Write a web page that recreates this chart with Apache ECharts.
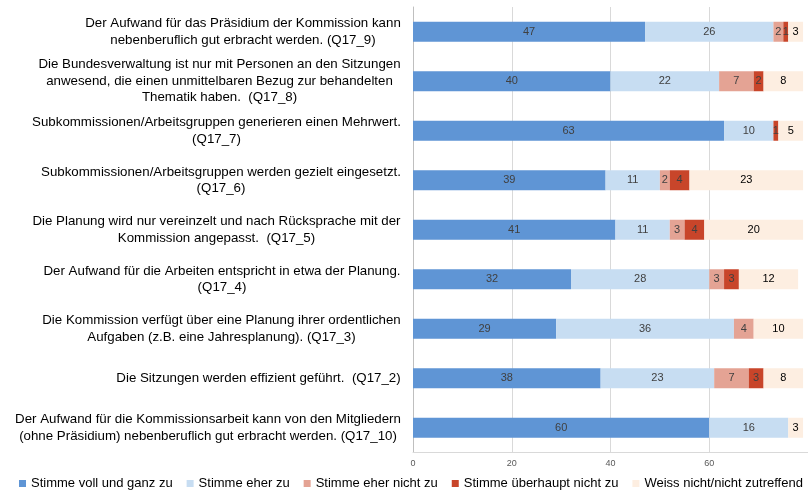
<!DOCTYPE html>
<html>
<head>
<meta charset="utf-8">
<script src="https://cdn.jsdelivr.net/npm/echarts@6/dist/echarts.min.js"></script>
<style>html,body{margin:0;padding:0;background:#fff}#c{width:808px;height:492px}</style>
</head>
<body>
<div id="c"></div>
<script>
const categories = [
  "Der Aufwand für das Präsidium der Kommission kann\nnebenberuflich gut erbracht werden. (Q17_9)",
  "Die Bundesverwaltung ist nur mit Personen an den Sitzungen\nanwesend, die einen unmittelbaren Bezug zur behandelten\nThematik haben.  (Q17_8)",
  "Subkommissionen/Arbeitsgruppen generieren einen Mehrwert.\n(Q17_7)",
  "Subkommissionen/Arbeitsgruppen werden gezielt eingesetzt.\n(Q17_6)",
  "Die Planung wird nur vereinzelt und nach Rücksprache mit der\nKommission angepasst.  (Q17_5)",
  "Der Aufwand für die Arbeiten entspricht in etwa der Planung.\n(Q17_4)",
  "Die Kommission verfügt über eine Planung ihrer ordentlichen\nAufgaben (z.B. eine Jahresplanung). (Q17_3)",
  "Die Sitzungen werden effizient geführt.  (Q17_2)",
  "Der Aufwand für die Kommissionsarbeit kann von den Mitgliedern\n(ohne Präsidium) nebenberuflich gut erbracht werden. (Q17_10)"
];
const seriesNames = ["Stimme voll und ganz zu","Stimme eher zu","Stimme eher nicht zu","Stimme überhaupt nicht zu","Weiss nicht/nicht zutreffend"];
const stimmeVoll      = [47, 40, 63, 39, 41, 32, 29, 38, 60];
const stimmeEher      = [26, 22, 10, 11, 11, 28, 36, 23, 16];
const stimmeEherNicht = [2, 7, 0, 2, 3, 3, 4, 7, 0];
const stimmeUeberhaupt= [1, 2, 1, 4, 4, 3, 0, 3, 0];
const weissNicht      = [3, 8, 5, 23, 20, 12, 10, 8, 3];
const xTicks = [0, 20, 40, 60, 80];

const colors = ["#5f95d5","#c7ddf2","#e4a394","#c8452a","#fdeee1"];
const labelColors = ["#404040","#404040","#404040","#404040","#000000"];
const values = [stimmeVoll, stimmeEher, stimmeEherNicht, stimmeUeberhaupt, weissNicht];

const FONT = '"Liberation Sans", Arial, sans-serif';
const YFS = 13.3;
const cv = document.createElement('canvas').getContext('2d');
cv.font = YFS + 'px ' + FONT;
const rich = {};
categories.forEach((c, i) => {
  const w = Math.max(...c.split('\n').map(l => cv.measureText(l).width));
  rich['w' + i] = { width: Math.ceil(w), align: 'center', fontSize: YFS, lineHeight: 16.5, color: '#000', fontFamily: FONT };
});

const chart = echarts.init(document.getElementById('c'), null, {renderer: 'canvas'});
chart.setOption({
  animation: false,
  textStyle: { fontFamily: FONT },
  grid: { left: 413, top: 7, width: 397, height: 445.5, containLabel: false },
  xAxis: {
    type: 'value', min: xTicks[0], max: xTicks[xTicks.length - 1], interval: 20,
    axisLine: { show: true, lineStyle: { color: '#d9d9d9' } },
    axisTick: { show: false },
    splitLine: { lineStyle: { color: '#d9d9d9' } },
    axisLabel: { color: '#595959', fontSize: 9, margin: 7, showMaxLabel: false }
  },
  yAxis: {
    type: 'category', data: categories, inverse: true,
    axisLine: { show: true, lineStyle: { color: '#bfbfbf' } },
    axisTick: { show: false },
    axisLabel: {
      margin: 12, align: 'right',
      formatter: (v, i) => v.split('\n').map(l => '{w' + i + '|' + l + '}').join('\n'),
      rich: rich
    }
  },
  legend: {
    top: 477, left: 19, width: 1200, padding: 0,
    itemWidth: 7, itemHeight: 7, itemGap: 14,
    icon: 'rect',
    textStyle: { fontSize: 13, color: '#000', fontFamily: FONT },
    data: seriesNames
  },
  series: seriesNames.map((n, k) => ({
    name: n, type: 'bar', stack: 'all', barWidth: 20,
    data: values[k],
    itemStyle: { color: colors[k] },
    label: {
      show: true, position: 'inside', fontSize: 11, color: labelColors[k],
      formatter: p => (p.value ? String(p.value) : '')
    }
  }))
});
</script>
</body>
</html>
